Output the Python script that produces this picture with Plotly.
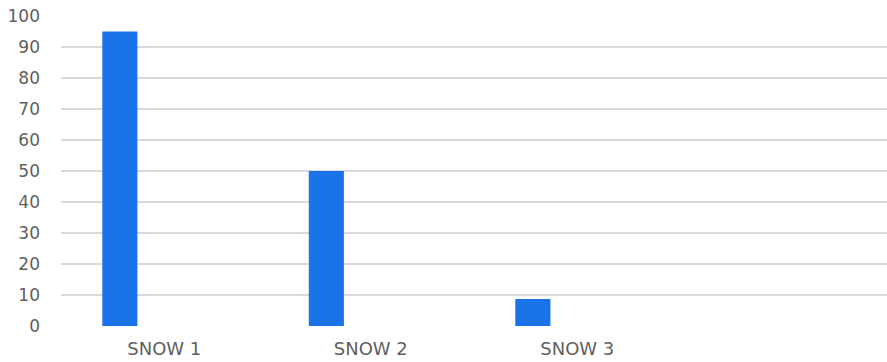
import plotly.graph_objects as go

# Category slots (the fourth slot is left empty)
categories = ["SNOW 1", "SNOW 2", "SNOW 3", ""]
values = [95, 50, 8.7]
y_ticks = [0, 10, 20, 30, 40, 50, 60, 70, 80, 90, 100]

positions = list(range(len(values)))

fig = go.Figure()
fig.add_trace(go.Bar(
    x=positions,
    y=values,
    width=0.17,
    offset=-0.30,
    marker=dict(color="#1a73e8", line=dict(width=0)),
    hoverinfo="y",
))

fig.update_layout(
    width=887,
    height=362,
    margin=dict(l=61, r=0, t=16, b=36),
    paper_bgcolor="white",
    plot_bgcolor="white",
    showlegend=False,
    font=dict(family="DejaVu Sans, sans-serif", size=17, color="#5f5f5f"),
)

fig.update_xaxes(
    range=[-0.5, len(categories) - 0.5],
    tickvals=list(range(len(categories))),
    ticktext=categories,
    showgrid=False,
    zeroline=False,
    showline=False,
    ticks="",
    ticklabelstandoff=10,
    tickfont=dict(size=18, color="#5f5f5f"),
)

fig.update_yaxes(
    range=[0, 100],
    tickvals=y_ticks,
    showgrid=True,
    gridcolor="#d9d9d9",
    gridwidth=1.5,
    zeroline=False,
    showline=False,
    ticks="",
    ticklabelstandoff=20,
    tickfont=dict(size=17, color="#5f5f5f"),
)

fig.write_html("out.html")
